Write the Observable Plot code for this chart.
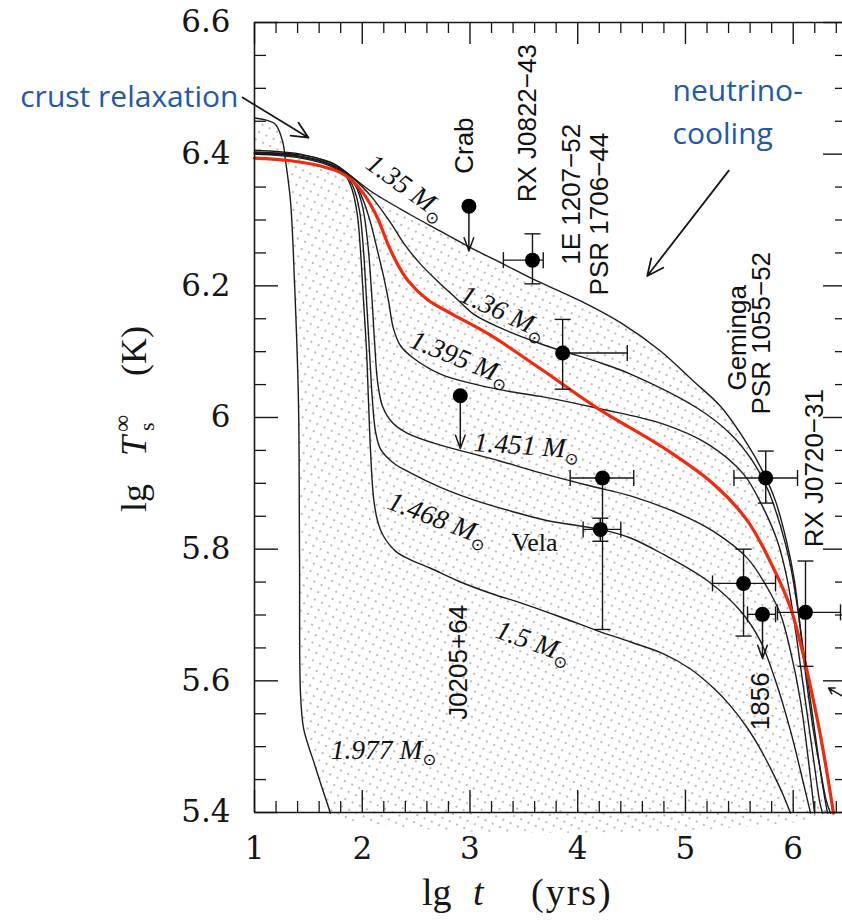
<!DOCTYPE html>
<html>
<head>
<meta charset="utf-8">
<script src="https://cdn.jsdelivr.net/npm/d3@7"></script>
<script src="https://cdn.jsdelivr.net/npm/@observablehq/plot@0.6"></script>
<style>
  html, body { margin: 0; padding: 0; background: #fff; overflow: hidden; }
</style>
</head>
<body>
<div id="chart"></div>
<script>
// Neutron-star cooling curves: lg t (yrs) against lg Ts∞ (K), one [lg t, lg Ts] list per mass.
const curve1350 = [[1.000,6.406],[1.427,6.400],[1.705,6.387],[1.798,6.379],[2.077,6.344],[2.448,6.308],[2.726,6.283],[3.005,6.258],[3.311,6.233],[3.562,6.212],[4.026,6.177],[4.397,6.144],[4.768,6.101],[5.075,6.055],[5.325,6.017],[5.557,5.964],[5.715,5.919],[5.836,5.873],[5.938,5.812],[6.012,5.752],[6.068,5.676],[6.123,5.600],[6.188,5.524],[6.254,5.463],[6.309,5.417],[6.347,5.399]];
const curve1360 = [[1.000,6.403],[1.427,6.399],[1.705,6.388],[1.798,6.379],[1.891,6.367],[2.077,6.337],[2.262,6.296],[2.401,6.261],[2.541,6.233],[2.699,6.207],[2.866,6.182],[3.033,6.157],[3.283,6.136],[3.655,6.112],[3.859,6.101],[4.211,6.083],[4.490,6.066],[5.112,6.014],[5.418,5.975],[5.622,5.934],[5.771,5.888],[5.882,5.835],[5.966,5.782],[6.031,5.721],[6.096,5.645],[6.161,5.569],[6.226,5.493],[6.282,5.432],[6.319,5.399]];
const curve1395 = [[1.000,6.403],[1.427,6.397],[1.705,6.385],[1.845,6.372],[1.937,6.355],[2.012,6.329],[2.077,6.296],[2.142,6.253],[2.197,6.215],[2.244,6.177],[2.290,6.135],[2.355,6.109],[2.476,6.090],[2.726,6.066],[3.033,6.051],[3.348,6.040],[3.655,6.032],[4.184,6.014],[4.796,5.990],[5.205,5.960],[5.539,5.914],[5.724,5.862],[5.854,5.812],[5.938,5.759],[6.003,5.698],[6.068,5.622],[6.133,5.546],[6.198,5.470],[6.245,5.417],[6.272,5.399]];
const curve1451 = [[1.000,6.402],[1.427,6.396],[1.705,6.384],[1.845,6.370],[1.937,6.352],[2.002,6.321],[2.049,6.268],[2.086,6.192],[2.114,6.116],[2.142,6.055],[2.188,6.017],[2.281,5.992],[2.420,5.976],[2.726,5.958],[3.190,5.938],[3.655,5.916],[4.119,5.896],[4.490,5.881],[4.954,5.853],[5.260,5.827],[5.576,5.786],[5.761,5.741],[5.882,5.701],[5.975,5.645],[6.068,5.569],[6.142,5.478],[6.198,5.399]];
const curve1468 = [[1.000,6.401],[1.427,6.396],[1.705,6.384],[1.845,6.369],[1.919,6.349],[1.975,6.314],[2.012,6.253],[2.040,6.177],[2.067,6.101],[2.095,6.025],[2.123,5.979],[2.170,5.952],[2.290,5.931],[2.448,5.916],[2.726,5.894],[3.033,5.875],[3.376,5.858],[3.701,5.844],[4.211,5.830],[4.490,5.817],[4.796,5.792],[5.205,5.752],[5.511,5.706],[5.697,5.660],[5.836,5.600],[5.975,5.524],[6.068,5.463],[6.161,5.399]];
const curve1500 = [[1.000,6.400],[1.427,6.394],[1.705,6.382],[1.845,6.367],[1.910,6.344],[1.956,6.306],[1.984,6.253],[2.012,6.177],[2.040,6.101],[2.058,6.025],[2.077,5.949],[2.105,5.878],[2.142,5.843],[2.197,5.820],[2.309,5.797],[2.420,5.786],[2.634,5.771],[2.884,5.752],[3.190,5.733],[3.497,5.717],[3.840,5.697],[4.184,5.676],[4.490,5.659],[4.796,5.641],[5.047,5.618],[5.260,5.589],[5.418,5.562],[5.576,5.528],[5.697,5.496],[5.817,5.458],[5.901,5.429],[5.975,5.399]];
const curve1977 = [[1.000,6.455],[1.102,6.452],[1.195,6.445],[1.260,6.420],[1.288,6.390],[1.334,6.329],[1.371,6.207],[1.408,6.025],[1.418,5.782],[1.427,5.580],[1.455,5.528],[1.501,5.501],[1.548,5.478],[1.622,5.440],[1.705,5.399]];
// Highlighted model (red)
const curveRed = [[1.000,6.394],[1.334,6.390],[1.613,6.382],[1.798,6.372],[1.891,6.362],[2.012,6.340],[2.142,6.303],[2.234,6.265],[2.327,6.233],[2.429,6.207],[2.606,6.179],[2.847,6.156],[3.190,6.125],[3.655,6.074],[4.184,6.014],[4.796,5.954],[5.260,5.899],[5.576,5.843],[5.817,5.771],[5.975,5.711],[6.096,5.638],[6.179,5.577],[6.254,5.516],[6.319,5.455],[6.374,5.399]];

// Curve labels (mass in solar masses) and where they sit
const massLabels = [
  {text: "1.35 M⊙",  t: 2.411, Ts: 6.350},
  {text: "1.36 M⊙",  t: 3.311, Ts: 6.160},
  {text: "1.395 M⊙", t: 2.912, Ts: 6.090},
  {text: "1.451 M⊙", t: 3.525, Ts: 5.957},
  {text: "1.468 M⊙", t: 2.708, Ts: 5.846},
  {text: "1.5 M⊙",   t: 3.590, Ts: 5.659},
  {text: "1.977 M⊙", t: 2.197, Ts: 5.495}
];

// Observed sources with error ranges
const sources = [
  {t: 3.58,  Ts: 6.239, tLo: 3.31,  tHi: 3.68,  TsLo: 6.203, TsHi: 6.279},
  {t: 3.86,  Ts: 6.098, tLo: 3.86,  tHi: 4.46,  TsLo: 6.043, TsHi: 6.149},
  {t: 4.23,  Ts: 5.908, tLo: 3.93,  tHi: 4.52,  TsLo: 5.678, TsHi: 5.908},
  {t: 4.21,  Ts: 5.830, tLo: 4.05,  tHi: 4.40,  TsLo: 5.812, TsHi: 5.847},
  {t: 5.745, Ts: 5.908, tLo: 5.45,  tHi: 6.04,  TsLo: 5.870, TsHi: 5.949},
  {t: 5.539, Ts: 5.748, tLo: 5.251, tHi: 5.836, TsLo: 5.668, TsHi: 5.800},
  {t: 6.114, Ts: 5.704, tLo: 5.854, tHi: 6.439, TsLo: 5.622, TsHi: 5.782}
];
// Upper limits (arrow down to TsTo)
const upperLimits = [
  {t: 2.99,  Ts: 6.321, TsTo: 6.253},
  {t: 2.91,  Ts: 6.033, TsTo: 5.953},
  {t: 5.715, Ts: 5.701, TsTo: 5.634, tLo: 5.576, tHi: 5.836}
];
// Source names
const sourceNames = [
  {text: "Crab",        t: 2.949, Ts: 6.413},
  {text: "RX J0822−43", t: 3.534, Ts: 6.447},
  {text: "1E 1207−52",  t: 3.942, Ts: 6.339},
  {text: "PSR 1706−44", t: 4.202, Ts: 6.309},
  {text: "Geminga",     t: 5.483, Ts: 6.121},
  {text: "PSR 1055−52", t: 5.706, Ts: 6.128},
  {text: "RX J0720−31", t: 6.198, Ts: 5.923},
  {text: "1856",        t: 5.697, Ts: 5.569},
  {text: "J0205+64",    t: 2.893, Ts: 5.628}
];
const velaLabel = [{text: "Vela", t: 3.599, Ts: 5.810}];

// Annotations
const crustNote = [{text: "crust relaxation", t: 0.8515, Ts: 6.486}];
const coolingNote = [
  {text: "neutrino-", t: 4.880, Ts: 6.496},
  {text: "cooling",   t: 4.880, Ts: 6.430}
];
const noteArrows = [
  {t1: 0.889, Ts1: 6.486, t2: 1.501, Ts2: 6.425},
  {t1: 5.402, Ts1: 6.375, t2: 4.645, Ts2: 6.215}
];
const edgeArrow = [{t1: 6.486, Ts1: 5.574, t2: 6.328, Ts2: 5.589}];

// Axis ticks
const tTicks = [1, 2, 3, 4, 5, 6];
const TsTicks = [5.4, 5.6, 5.8, 6, 6.2, 6.4, 6.6];

// ---- layout ----
const W = 842, H = 920;
const mL = 254, mR = 0, mT = 22, mB = 108;
const plotW = W - mL - mR, plotH = H - mT - mB;
const ink = "#161616";
const serif = "'Liberation Serif', 'DejaVu Serif', serif";
const tickFont = "'DejaVu Serif', serif";
const sans = "'Liberation Sans', Arial, sans-serif";
const blue = "#2358a8";
const noteFont = "'Open Sans', sans-serif";

const labelTilt = {"1.35 M⊙": 36, "1.36 M⊙": 25, "1.395 M⊙": 22, "1.451 M⊙": 4, "1.468 M⊙": 21, "1.5 M⊙": 20, "1.977 M⊙": 0};

const toRows = (mass, pts) => pts.map(([t, Ts]) => ({mass, t, Ts}));
const blackRows = [
  ...toRows("1.35", curve1350), ...toRows("1.36", curve1360), ...toRows("1.395", curve1395),
  ...toRows("1.451", curve1451), ...toRows("1.468", curve1468), ...toRows("1.5", curve1500),
  ...toRows("1.977", curve1977)
];
const redRows = toRows("red", curveRed);
// shaded band between the slowest and fastest coolers
const band = [...toRows("band", curve1350), ...toRows("band", curve1977.slice().reverse())];

const near = (v, step, origin) => Math.abs((v - origin) / step - Math.round((v - origin) / step)) < 1e-6;
const tMinor = d3.range(1, 6.5, 0.2).filter(v => !near(v, 1, 1));
const TsMinor = d3.range(5.4, 6.6001, 0.05).filter(v => !near(v, 0.2, 5.4));

const hCap = {draw(ctx, size) { const r = Math.sqrt(size / Math.PI); ctx.moveTo(-r, 0); ctx.lineTo(r, 0); }};
const vCap = {draw(ctx, size) { const r = Math.sqrt(size / Math.PI); ctx.moveTo(0, -r); ctx.lineTo(0, r); }};

const xBars = [...sources, ...upperLimits.filter(d => d.tLo != null)];

const chart = Plot.plot({
  width: W, height: H,
  marginLeft: mL, marginRight: mR, marginTop: mT, marginBottom: mB,
  x: {domain: [1, 6.4575]},
  y: {domain: [5.4, 6.6]},
  style: {background: "#fff", color: ink},
  marks: [
    Plot.line(band, {x: "t", y: "Ts", fill: "url(#stipple)", stroke: "none", curve: "catmull-rom"}),
    Plot.line(blackRows, {x: "t", y: "Ts", z: "mass", stroke: "#1c1c1c", strokeWidth: 1.4, curve: "catmull-rom"}),
    Plot.line(redRows, {x: "t", y: "Ts", stroke: "#f3290b", strokeWidth: 3.2, curve: "catmull-rom"}),

    // frame
    Plot.ruleX([1], {stroke: ink, strokeWidth: 1.6}),
    Plot.ruleY([5.4, 6.6], {stroke: ink, strokeWidth: 1.6}),
    // inward ticks on all sides
    Plot.ruleX(tTicks, {insetTop: plotH - 22, stroke: ink, strokeWidth: 1.4}),
    Plot.ruleX(tTicks, {insetBottom: plotH - 22, stroke: ink, strokeWidth: 1.4}),
    Plot.ruleX(tMinor, {insetTop: plotH - 11, stroke: ink, strokeWidth: 1.3}),
    Plot.ruleX(tMinor, {insetBottom: plotH - 11, stroke: ink, strokeWidth: 1.3}),
    Plot.ruleY(TsTicks, {insetRight: plotW - 24, stroke: ink, strokeWidth: 1.4}),
    Plot.ruleY(TsTicks, {insetLeft: plotW - 19, stroke: ink, strokeWidth: 1.4}),
    Plot.ruleY(TsMinor, {insetRight: plotW - 12, stroke: ink, strokeWidth: 1.3}),
    Plot.ruleY(TsMinor, {insetLeft: plotW - 7, stroke: ink, strokeWidth: 1.3}),
    Plot.axisX({ticks: tTicks, tickSize: 0, tickPadding: 24, fontSize: 31, fontFamily: tickFont, tickFormat: d => String(d), label: null}),
    Plot.axisY({ticks: TsTicks, tickSize: 0, tickPadding: 24, fontSize: 31, fontFamily: tickFont, tickFormat: d => String(d), label: null}),

    // error bars
    Plot.link(xBars, {x1: "tLo", x2: "tHi", y1: "Ts", y2: "Ts", stroke: ink, strokeWidth: 1.4}),
    Plot.link(sources, {x1: "t", x2: "t", y1: "TsLo", y2: "TsHi", stroke: ink, strokeWidth: 1.4}),
    Plot.dot(xBars, {x: "tLo", y: "Ts", symbol: vCap, r: 8, fill: "none", stroke: ink, strokeWidth: 1.4}),
    Plot.dot(xBars, {x: "tHi", y: "Ts", symbol: vCap, r: 8, fill: "none", stroke: ink, strokeWidth: 1.4}),
    Plot.dot(sources, {x: "t", y: "TsLo", symbol: hCap, r: 8, fill: "none", stroke: ink, strokeWidth: 1.4}),
    Plot.dot(sources, {x: "t", y: "TsHi", symbol: hCap, r: 8, fill: "none", stroke: ink, strokeWidth: 1.4}),
    Plot.arrow(upperLimits, {x1: "t", y1: "Ts", x2: "t", y2: "TsTo", stroke: ink, strokeWidth: 1.5, headLength: 14, headAngle: 40}),
    Plot.dot(sources, {x: "t", y: "Ts", r: 7.5, fill: "#000"}),
    Plot.dot(upperLimits, {x: "t", y: "Ts", r: 7.5, fill: "#000"}),

    // labels
    Plot.text(massLabels, {x: "t", y: "Ts", text: "text", rotate: d => labelTilt[d.text], fontFamily: serif, fontStyle: "italic", fontSize: 27.5, fill: "#111"}),
    Plot.text(velaLabel, {x: "t", y: "Ts", text: "text", fontFamily: serif, fontSize: 26, fill: "#111"}),
    Plot.text(sourceNames, {x: "t", y: "Ts", text: "text", rotate: -90, fontFamily: sans, fontSize: 26, fill: "#111"}),

    // annotations
    Plot.text(crustNote, {x: "t", y: "Ts", text: "text", textAnchor: "end", fontFamily: noteFont, fontSize: 30, fill: blue}),
    Plot.text(coolingNote, {x: "t", y: "Ts", text: "text", textAnchor: "start", fontFamily: noteFont, fontSize: 30, fill: blue}),
    Plot.arrow(noteArrows, {x1: "t1", y1: "Ts1", x2: "t2", y2: "Ts2", stroke: ink, strokeWidth: 1.8, headLength: 15, headAngle: 50}),
    Plot.arrow(edgeArrow, {x1: "t1", y1: "Ts1", x2: "t2", y2: "Ts2", stroke: ink, strokeWidth: 1.5, headLength: 10, headAngle: 60})
  ]
});

const svg = d3.select(chart);

// stipple pattern used by the shaded band
const pat = svg.insert("defs", ":first-child").append("pattern")
  .attr("id", "stipple").attr("patternUnits", "userSpaceOnUse")
  .attr("width", 8).attr("height", 8).attr("patternTransform", "rotate(25)");
pat.append("circle").attr("cx", 2).attr("cy", 2).attr("r", 0.95).attr("fill", "#a0a0a0");

// solar-mass symbol as a subscript
svg.selectAll("text").each(function () {
  const s = this.textContent;
  if (this.childElementCount === 0 && s.endsWith("⊙")) {
    this.textContent = s.slice(0, -1);
    d3.select(this).append("tspan")
      .attr("font-size", "0.6em").attr("font-style", "normal").attr("dy", "0.4em")
      .attr("font-family", "'DejaVu Sans', sans-serif")
      .text("⊙");
  }
});

// x-axis title: lg t (yrs)
const xt = svg.append("text").attr("font-family", serif).attr("font-size", 38).attr("fill", ink)
  .attr("text-anchor", "start").attr("y", mT + plotH + 93);
xt.append("tspan").attr("x", mL + 168).text("lg");
xt.append("tspan").attr("x", mL + 219).attr("font-style", "italic").text("t");
xt.append("tspan").attr("x", mL + 277).attr("letter-spacing", 2).text("(yrs)");

// y-axis title: lg Ts∞ (K)
const yt = svg.append("g").attr("transform", `translate(${mL - 108},${mT + 490}) rotate(-90)`)
  .attr("font-family", serif).attr("font-size", 36).attr("fill", ink).attr("text-anchor", "start");
yt.append("text").attr("x", 0).text("lg");
yt.append("text").attr("x", 56).attr("font-style", "italic").text("T");
yt.append("text").attr("x", 80).attr("y", -16).attr("font-size", 24).text("∞");
yt.append("text").attr("x", 81).attr("y", 8).attr("font-size", 22).text("s");
yt.append("text").attr("x", 136).text("(K)");

document.getElementById("chart").appendChild(chart);
</script>
</body>
</html>
